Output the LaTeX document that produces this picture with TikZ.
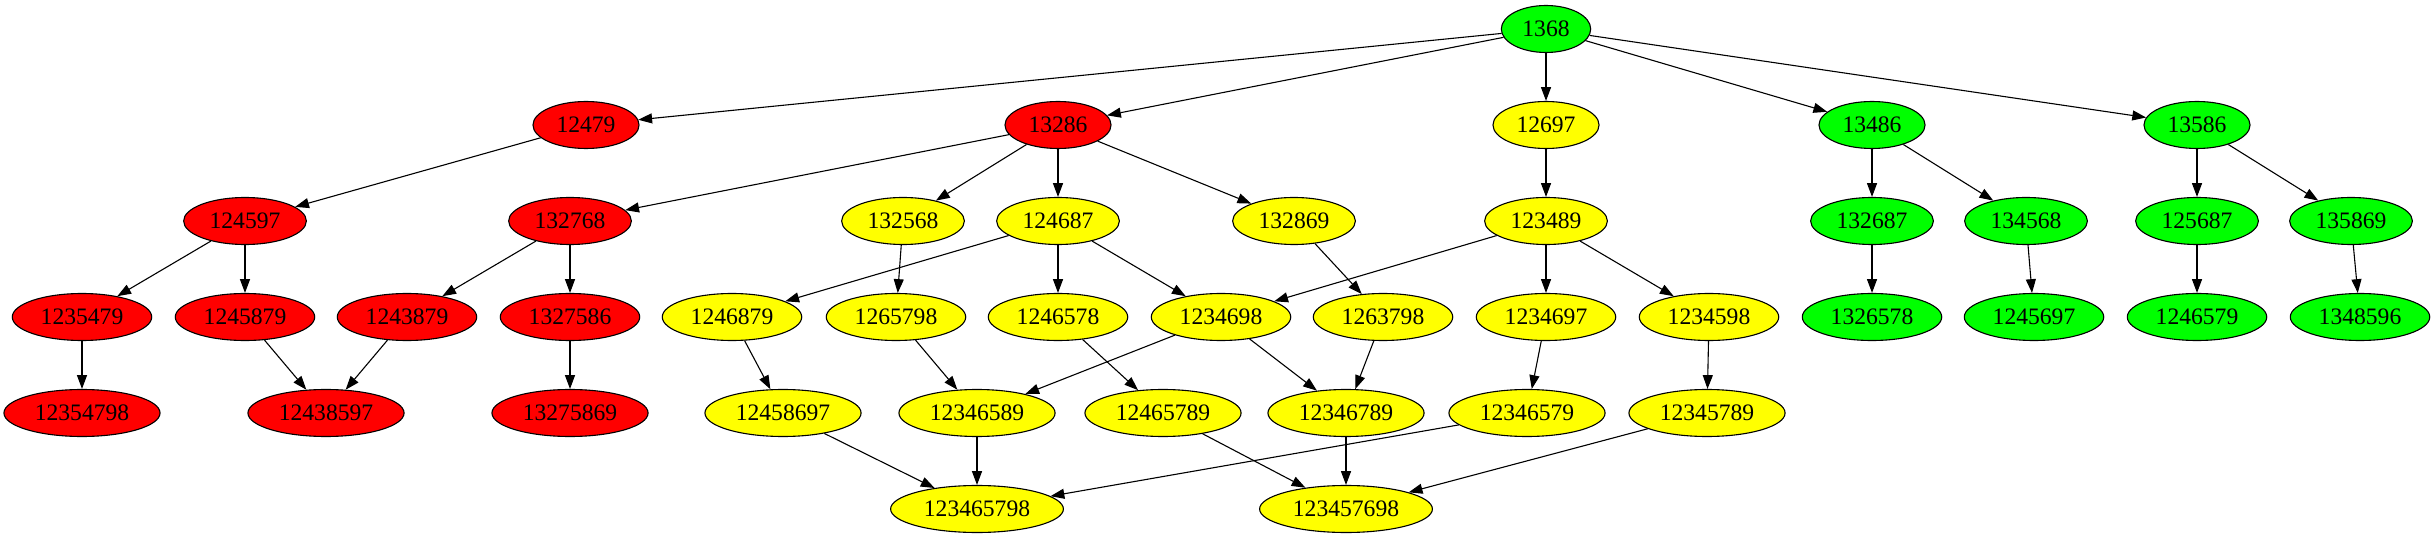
\documentclass[tikz,border=0pt]{standalone}
\usepackage{fontspec}
\setmainfont{Liberation Serif}
\usetikzlibrary{arrows.meta,shapes.geometric}
\definecolor{gvred}{RGB}{255,0,0}
\definecolor{gvyellow}{RGB}{255,255,0}
\definecolor{gvgreen}{RGB}{0,255,0}
\tikzset{
  gv/.style={ellipse,draw=black,line width=0.55pt,minimum height=23.5pt,inner xsep=4pt,inner ysep=0pt,
    font=\fontsize{11.8pt}{14pt}\selectfont},
  rn/.style={gv,fill=gvred},
  yn/.style={gv,fill=gvyellow},
  gn/.style={gv,fill=gvgreen},
  edge/.style={draw=black,line width=0.55pt,-{Triangle[length=6.9pt,width=5pt]}}
}
\begin{document}
\begin{tikzpicture}[x=0.5pt,y=-0.5pt]
\useasboundingbox (0,0) rectangle (2434,539);
% row 0
\node[gn] (n1368) at (1546,29) {1368};
% row 1
\node[rn] (n12479) at (586,125) {12479};
\node[rn] (n13286) at (1058,125) {13286};
\node[yn] (n12697) at (1546,125) {12697};
\node[gn] (n13486) at (1872,125) {13486};
\node[gn] (n13586) at (2197,125) {13586};
% row 2
\node[rn] (n124597) at (245,221) {124597};
\node[rn] (n132768) at (570,221) {132768};
\node[yn] (n132568) at (903,221) {132568};
\node[yn] (n124687) at (1058,221) {124687};
\node[yn] (n132869) at (1294,221) {132869};
\node[yn] (n123489) at (1546,221) {123489};
\node[gn] (n132687) at (1872,221) {132687};
\node[gn] (n134568) at (2026,221) {134568};
\node[gn] (n125687) at (2197,221) {125687};
\node[gn] (n135869) at (2351,221) {135869};
% row 3
\node[rn] (n1235479) at (82,317) {1235479};
\node[rn] (n1245879) at (245,317) {1245879};
\node[rn] (n1243879) at (407,317) {1243879};
\node[rn] (n1327586) at (570,317) {1327586};
\node[yn] (n1246879) at (732,317) {1246879};
\node[yn] (n1265798) at (896,317) {1265798};
\node[yn] (n1246578) at (1058,317) {1246578};
\node[yn] (n1234698) at (1221,317) {1234698};
\node[yn] (n1263798) at (1383,317) {1263798};
\node[yn] (n1234697) at (1546,317) {1234697};
\node[yn] (n1234598) at (1709,317) {1234598};
\node[gn] (n1326578) at (1872,317) {1326578};
\node[gn] (n1245697) at (2034,317) {1245697};
\node[gn] (n1246579) at (2197,317) {1246579};
\node[gn] (n1348596) at (2360,317) {1348596};
% row 4
\node[rn] (n12354798) at (82,413) {12354798};
\node[rn] (n12438597) at (326,413) {12438597};
\node[rn] (n13275869) at (570,413) {13275869};
\node[yn] (n12458697) at (783,413) {12458697};
\node[yn] (n12346589) at (977,413) {12346589};
\node[yn] (n12465789) at (1163,413) {12465789};
\node[yn] (n12346789) at (1346,413) {12346789};
\node[yn] (n12346579) at (1527,413) {12346579};
\node[yn] (n12345789) at (1707,413) {12345789};
% row 5
\node[yn] (n123465798) at (977,509) {123465798};
\node[yn] (n123457698) at (1346,509) {123457698};
% edges
\foreach \a/\b in {
  n1368/n12479, n1368/n13286, n1368/n12697, n1368/n13486, n1368/n13586,
  n12479/n124597,
  n13286/n132768, n13286/n132568, n13286/n124687, n13286/n132869,
  n12697/n123489,
  n13486/n132687, n13486/n134568,
  n13586/n125687, n13586/n135869,
  n124597/n1235479, n124597/n1245879,
  n132768/n1243879, n132768/n1327586,
  n132568/n1265798,
  n124687/n1246879, n124687/n1246578, n124687/n1234698,
  n132869/n1263798,
  n123489/n1234698, n123489/n1234697, n123489/n1234598,
  n132687/n1326578, n134568/n1245697, n125687/n1246579, n135869/n1348596,
  n1235479/n12354798, n1245879/n12438597, n1243879/n12438597,
  n1327586/n13275869, n1246879/n12458697, n1265798/n12346589,
  n1246578/n12465789, n1234698/n12346589, n1234698/n12346789,
  n1263798/n12346789, n1234697/n12346579, n1234598/n12345789,
  n12458697/n123465798, n12346589/n123465798, n12346579/n123465798,
  n12465789/n123457698, n12346789/n123457698, n12345789/n123457698}
  \draw[edge] (\a) -- (\b);
\end{tikzpicture}
\end{document}
